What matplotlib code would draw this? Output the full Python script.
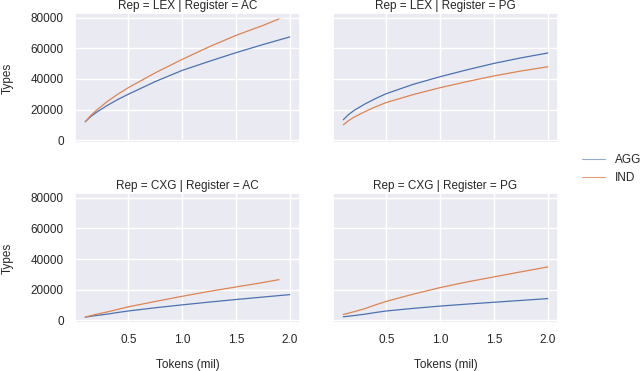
import numpy as np
import matplotlib
matplotlib.use("Agg")
import matplotlib.pyplot as plt
import seaborn as sns
from matplotlib.lines import Line2D

sns.set_theme(style="darkgrid")
plt.rcParams["font.family"] = ["Liberation Sans", "DejaVu Sans"]

x_full = [0.1, 0.15, 0.2, 0.3, 0.4, 0.5, 0.75, 1.0, 1.25, 1.5, 1.75, 2.0]
x_short = [0.1, 0.15, 0.2, 0.3, 0.4, 0.5, 0.75, 1.0, 1.25, 1.5, 1.75, 1.9]

lex_ac_agg = [12000, 15300, 18000, 22500, 26500, 30000, 38300, 45600, 51500, 57200, 62500, 67500]
lex_ac_ind = [12000, 16000, 19300, 25000, 29900, 34300, 44000, 52800, 61000, 68500, 75000, 79300]
lex_pg_agg = [13300, 16800, 19400, 23600, 27200, 30400, 36500, 41500, 46000, 50200, 53800, 57000]
lex_pg_ind = [10000, 12800, 15000, 18600, 21800, 24600, 29800, 34300, 38300, 42000, 45200, 48000]
cxg_ac_agg = [2000, 2500, 3000, 3900, 5000, 6000, 8100, 10000, 11800, 13500, 15100, 16700]
cxg_ac_ind = [2000, 2900, 3800, 5300, 7000, 8700, 12200, 15600, 18800, 21700, 24600, 26500]
cxg_pg_agg = [2200, 2600, 3000, 3900, 5000, 6000, 7700, 9200, 10500, 11700, 12900, 14100]
cxg_pg_ind = [3700, 4600, 5500, 7500, 10000, 12300, 17000, 21300, 25000, 28300, 31600, 34800]

panels = [
    ("LEX", "AC", lex_ac_agg, x_full, lex_ac_ind, x_short),
    ("LEX", "PG", lex_pg_agg, x_full, lex_pg_ind, x_full),
    ("CXG", "AC", cxg_ac_agg, x_full, cxg_ac_ind, x_short),
    ("CXG", "PG", cxg_pg_agg, x_full, cxg_pg_ind, x_full),
]

blue = sns.color_palette()[0]
orange = sns.color_palette()[1]
fs = 8.5

fig, axes = plt.subplots(2, 2, figsize=(6.4, 3.71), dpi=100, sharex=True, sharey=True)
fig.subplots_adjust(left=75/640, right=558/640, top=1-13/371, bottom=1-323/371,
                    wspace=0.147, hspace=0.385)

for ax, (rep, reg, agg, xa, ind, xi) in zip(axes.flat, panels):
    ax.plot(xa, agg, color=blue, lw=0.9)
    ax.plot(xi, ind, color=orange, lw=0.9)
    ax.set_title(f"Rep = {rep} | Register = {reg}", fontsize=fs, pad=3)
    ax.tick_params(labelsize=fs, pad=2)

axes[0, 0].set_yticks([0, 20000, 40000, 60000, 80000])
axes[1, 0].set_xticks([0.5, 1.0, 1.5, 2.0])
for ax in axes[:, 0]:
    ax.set_ylabel("Types", fontsize=fs, labelpad=12)
for ax in axes[1, :]:
    ax.set_xlabel("Tokens (mil)", fontsize=fs, labelpad=9)

handles = [Line2D([], [], color=blue, lw=0.8, alpha=0.6),
           Line2D([], [], color=orange, lw=0.8, alpha=0.8)]
fig.legend(handles, ["AGG", "IND"], loc="center left", bbox_to_anchor=(0.892, 0.544),
           frameon=False, fontsize=fs, handlelength=2.0, handletextpad=0.8, labelspacing=0.5)

fig.savefig("out.png", dpi=100)
